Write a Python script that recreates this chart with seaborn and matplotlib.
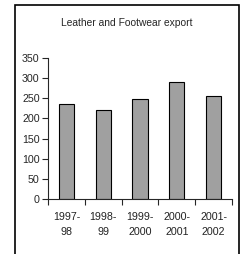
import pandas as pd
import seaborn as sns
from matplotlib import pyplot as plt
from matplotlib.patches import Rectangle

years = ["1997-\n98", "1998-\n99", "1999-\n2000", "2000-\n2001", "2001-\n2002"]
export = [235, 220, 248, 291, 256]

df = pd.DataFrame({"year": years, "export": export})

sns.set_style("ticks")
plt.rcParams["font.family"] = ["Liberation Sans", "DejaVu Sans"]

fig = plt.figure(figsize=(2.45, 2.54), dpi=100)
ax = fig.add_axes([48 / 245, 1 - 199 / 254, 184 / 245, 141 / 254])

sns.barplot(
    data=df,
    x="year",
    y="export",
    color="#a0a0a0",
    saturation=1,
    width=0.41,
    edgecolor="black",
    linewidth=0.8,
    ax=ax,
)

ax.set_ylim(0, 350)
ax.set_xlim(-0.5, len(years) - 0.5)
ax.set_yticks(range(0, 351, 50))
ax.set_xticks([i - 0.5 for i in range(len(years) + 1)], minor=True)
ax.set_xticks(range(len(years)))
ax.set_xticklabels(years, fontsize=7.7, color="#222222", linespacing=1.6)
ax.tick_params(axis="x", which="major", length=0, pad=9.5)
ax.tick_params(axis="x", which="minor", length=4, width=0.8, direction="out")
ax.tick_params(axis="y", length=4, width=0.8, labelsize=7.7, pad=2)
ax.set_xlabel("")
ax.set_ylabel("")
for s in ["top", "right"]:
    ax.spines[s].set_visible(False)
for s in ["left", "bottom"]:
    ax.spines[s].set_linewidth(0.8)

fig.text(127 / 245, 1 - 23 / 254, "Leather and Footwear export",
         ha="center", va="center", fontsize=7.4)

frame = Rectangle((14.5 / 245, -0.05), (239 - 14.5) / 245, 1.05 - 5 / 254,
                  transform=fig.transFigure, fill=False,
                  edgecolor="black", linewidth=1.2)
fig.patches.append(frame)

fig.savefig("out.png", dpi=100)
